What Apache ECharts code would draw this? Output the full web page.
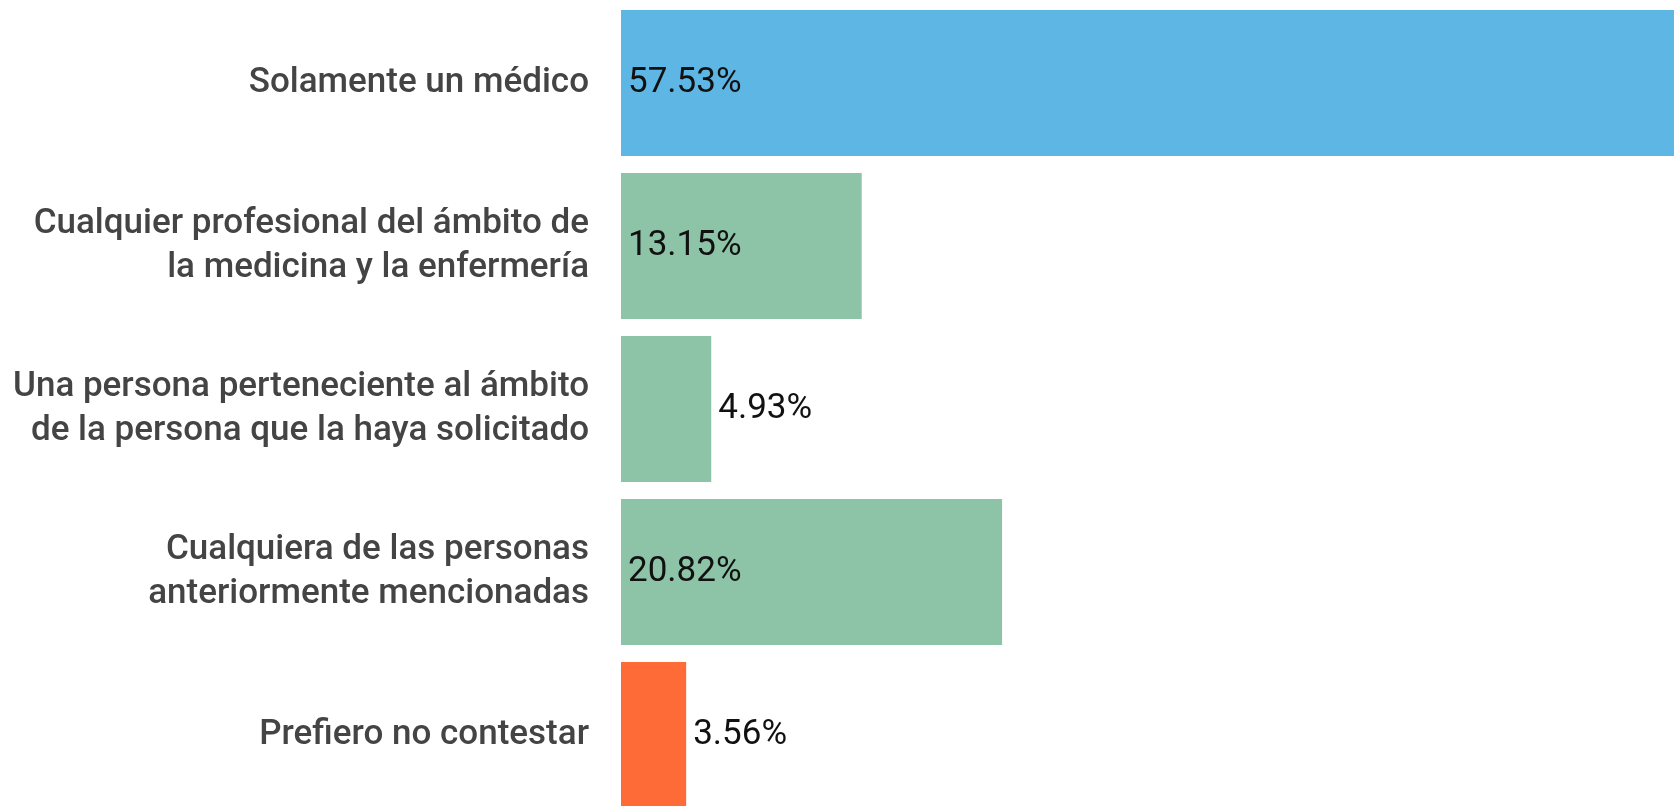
<!DOCTYPE html>
<html>
<head>
<meta charset="utf-8">
<script src="https://cdn.jsdelivr.net/npm/echarts@6/dist/echarts.min.js"></script>
<style>
  html, body { margin: 0; padding: 0; background: #fff; }
  #chart { width: 1674px; height: 806px; }
</style>
</head>
<body>
<div id="chart"></div>
<script>
var categories = [
  'Solamente un médico',
  'Cualquier profesional del ámbito de\nla medicina y la enfermería',
  'Una persona perteneciente al ámbito\nde la persona que la haya solicitado',
  'Cualquiera de las personas\nanteriormente mencionadas',
  'Prefiero no contestar'
];
var values = [57.53, 13.15, 4.93, 20.82, 3.56];
var barColors = ['#5eb6e4', '#8dc3a7', '#8dc3a7', '#8dc3a7', '#ff6b37'];

var chart = echarts.init(document.getElementById('chart'));

// bars too short to hold the label get it outside on the right
var seriesData = [];
for (var i = 0; i < values.length; i++) {
  seriesData.push({
    value: values[i],
    itemStyle: { color: barColors[i] },
    label: { position: values[i] < 8 ? 'right' : 'insideLeft' }
  });
}

var option = {
  animation: false,
  grid: {
    left: 621,
    right: 0,
    top: 1.5,
    height: 815,   // last bar runs off the bottom edge, like the source
    outerBoundsMode: 'none'
  },
  xAxis: {
    type: 'value',
    min: 0,
    max: 57.53,
    show: false
  },
  yAxis: {
    type: 'category',
    inverse: true,
    data: categories,
    axisLine: { show: false },
    axisTick: { show: false },
    axisLabel: {
      margin: 32,
      color: '#444',
      fontFamily: 'Roboto',
      fontWeight: 500,
      fontSize: 35,
      lineHeight: 44,
      align: 'right'
    }
  },
  series: [
    {
      type: 'bar',
      barCategoryGap: '10.4%',
      data: seriesData,
      label: {
        show: true,
        distance: 7,
        color: '#111',
        fontFamily: 'Roboto',
        fontSize: 35,
        formatter: function (p) { return p.value.toFixed(2) + '%'; }
      }
    }
  ]
};
chart.setOption(option);
</script>
</body>
</html>
